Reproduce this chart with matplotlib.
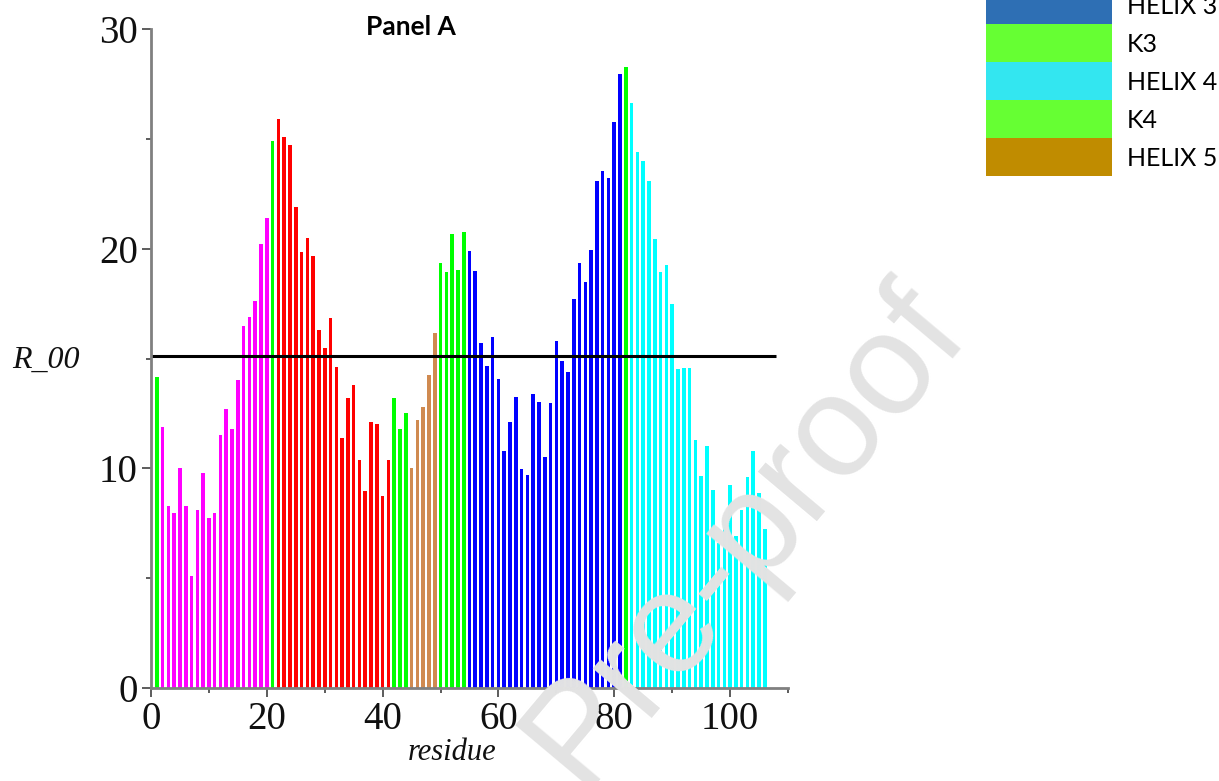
import matplotlib
matplotlib.use("Agg")
import matplotlib.pyplot as plt
from matplotlib.patches import Rectangle
from matplotlib.ticker import MultipleLocator

# ---------------- data ----------------
residues = list(range(1, 107))
r_values = [
    14.15, 11.9, 8.27, 7.97, 10.0, 8.3, 5.08, 8.09, 9.8, 7.74,
    7.97, 11.5, 12.7, 11.8, 14.0, 16.5, 16.9, 17.6, 20.2, 21.4,
    24.9, 25.9, 25.1, 24.7, 21.9, 19.86, 20.5, 19.67, 16.3, 15.5,
    16.85, 14.6, 11.4, 13.2, 13.8, 10.4, 8.97, 12.1, 12.0, 8.72,
    10.4, 13.2, 11.8, 12.5, 10.0, 12.2, 12.8, 14.27, 16.15, 19.35,
    18.95, 20.67, 19.04, 20.75, 19.88, 18.97, 15.7, 14.66, 15.99, 14.05,
    10.8, 12.1, 13.26, 9.95, 9.68, 13.4, 13.0, 10.5, 12.96, 15.8,
    14.9, 14.4, 17.69, 19.34, 18.49, 19.95, 23.08, 23.55, 23.23, 25.75,
    27.97, 28.26, 26.65, 24.4, 23.99, 23.1, 20.44, 18.93, 19.25, 17.5,
    14.5, 14.56, 14.56, 11.28, 9.63, 11.0, 9.03, 6.6, 7.66, 9.26,
    6.9, 8.1, 9.59, 10.77, 8.88, 7.24,
]
seg_start = [1, 2, 21, 22, 42, 45, 50, 55, 82, 83]
seg_end = [1, 20, 21, 41, 44, 49, 54, 81, 82, 106]
seg_color = ["#00FF00", "#FF00FF", "#00FF00", "#FF0000", "#00FF00",
             "#D08A50", "#00FF00", "#0000FF", "#00FF00", "#00FFFF"]
R00 = 15.1

legend_labels = ["HELIX 3", "K3", "HELIX 4", "K4", "HELIX 5"]
legend_colors = ["#2E6FB4", "#66FF33", "#33E6F0", "#66FF33", "#C08C00"]

x_major = [0, 20, 40, 60, 80, 100]
y_major = [0, 10, 20, 30]

# ---------------- figure ----------------
W, H = 1219, 781
fig = plt.figure(figsize=(W / 100, H / 100), dpi=100)

def fx(px):
    return px / W

def fy(py):
    return 1 - py / H

ax = fig.add_axes([fx(151), fy(688), fx(788 - 151), (688 - 29) / H])

colors = []
for r in residues:
    for s, e, c in zip(seg_start, seg_end, seg_color):
        if s <= r <= e:
            colors.append(c)
            break

ax.bar(residues, r_values, width=0.62, color=colors, edgecolor="none", zorder=2)
ax.hlines(R00, 0, 108, color="black", linewidth=2.2, zorder=3)

ax.set_xlim(0, 110)
ax.set_ylim(0, 30)
for s in ["top", "right"]:
    ax.spines[s].set_visible(False)
for s in ["left", "bottom"]:
    ax.spines[s].set_color("#808080")
    ax.spines[s].set_linewidth(2.0)
    ax.spines[s].set_zorder(4)

ax.set_xticks(x_major)
ax.set_yticks(y_major)
ax.xaxis.set_minor_locator(MultipleLocator(10))
ax.yaxis.set_minor_locator(MultipleLocator(5))
ax.tick_params(which="major", length=6.5, width=1.1, color="#303030", direction="out")
ax.tick_params(which="minor", length=3.5, width=1.1, color="#303030", direction="out")
ax.tick_params(axis="x", which="major", pad=3)
ax.tick_params(axis="y", which="major", pad=3)

serif = "Liberation Serif"
for lab in ax.get_xticklabels() + ax.get_yticklabels():
    lab.set_fontfamily(serif)
    lab.set_fontsize(28)
    lab.set_color("#101010")

fig.text(fx(80), fy(360), "R_00", family=serif, style="italic", fontsize=23,
         ha="right", va="center", color="#101010")
fig.text(fx(452), fy(752), "residue", family=serif, style="italic", fontsize=22,
         ha="center", va="center", color="#101010")

fig.text(fx(411), fy(27), "Panel A", family="Lato", fontweight="bold", fontsize=19,
         ha="center", va="center", color="black")

# legend (partially cut at the top of the image, as in the reference)
row_top = [-14, 24, 62, 100, 138]
row_h = 38
for lab, col, t in zip(legend_labels, legend_colors, row_top):
    fig.patches.append(Rectangle((fx(986), fy(t + row_h)), fx(1112 - 986), row_h / H,
                                 transform=fig.transFigure, facecolor=col,
                                 edgecolor="none"))
    fig.text(fx(1127), fy(t + row_h / 2 + 1), lab, family="Lato", fontsize=18,
             ha="left", va="center", color="black")

# watermark
fig.text(fx(745), fy(535), "Pre-proof", family="Liberation Sans", fontsize=104,
         rotation=50, ha="center", va="center", color="#E3E3E3", zorder=10)

fig.savefig("out.png", dpi=100)
